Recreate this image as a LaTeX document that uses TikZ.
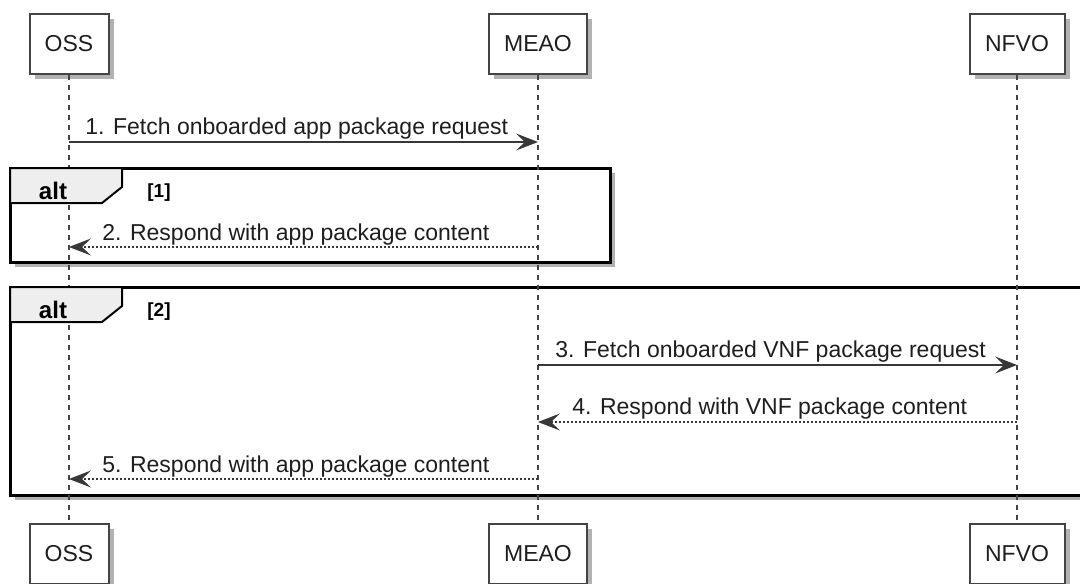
\documentclass[tikz,border=0pt]{standalone}
\usepackage{fontspec}
\setmainfont{Liberation Sans}
\usetikzlibrary{arrows.meta,shadows}
\definecolor{line_gray}{RGB}{56,56,56}
\definecolor{box_gray}{RGB}{68,68,68}
\definecolor{tab_gray}{RGB}{238,238,238}
\definecolor{text_gray}{RGB}{30,30,30}

\begin{document}
\begin{tikzpicture}[x=0.5pt,y=-0.5pt,>={Stealth[length=11pt,width=8.5pt,inset=4.5pt]}]
    \tikzstyle{actor}=[draw=box_gray, line width=1pt, fill=white, minimum height=30pt, inner sep=0pt, text=text_gray, font=\fontsize{11.5}{13}\selectfont, drop shadow={shadow xshift=2.5pt,shadow yshift=-2.5pt,opacity=0.3,fill=black}]
    \tikzstyle{life}=[draw=box_gray, line width=0.6pt, dash pattern=on 2.5pt off 2.5pt]
    \tikzstyle{call}=[->, draw=line_gray, line width=0.65pt]
    \tikzstyle{back}=[style=call, dash pattern=on 1pt off 1pt]
    \tikzstyle{msg}=[anchor=base west, inner sep=0pt, text=text_gray, font=\fontsize{11.5}{13}\selectfont]
    \tikzstyle{frame}=[draw=black, line width=1.5pt, fill=white, drop shadow={shadow xshift=2.5pt,shadow yshift=-2.5pt,opacity=0.3,fill=black}]
    \tikzstyle{tab}=[draw=black, line width=1pt, fill=tab_gray]
    \tikzstyle{kind}=[anchor=base, inner sep=0pt, font=\bfseries\fontsize{12}{14}\selectfont]
    \tikzstyle{guard}=[anchor=base west, inner sep=0pt, font=\bfseries\fontsize{9.5}{11}\selectfont]

    \useasboundingbox (0,0) rectangle (1080,583);
    \clip (0,0) rectangle (1080,583);
    \fill[white] (0,0) rectangle (1080,583);

    % alt frames
    \draw[frame] (10,168) rectangle (610,262);
    \draw[frame] (10,287) rectangle (1100,495);

    % participants
    \node[actor, minimum width=39.5pt] (ossTop)  at (69,44)   {OSS};
    \node[actor, minimum width=49pt]   (meaoTop) at (538,44)  {MEAO};
    \node[actor, minimum width=47.5pt] (nfvoTop) at (1017,44) {NFVO};
    \node[actor, minimum width=39.5pt] (ossBot)  at (69,554)  {OSS};
    \node[actor, minimum width=49pt]   (meaoBot) at (538,554) {MEAO};
    \node[actor, minimum width=47.5pt] (nfvoBot) at (1017,554) {NFVO};

    \path[life]
     (ossTop) edge (ossBot)
     (meaoTop) edge (meaoBot)
     (nfvoTop) edge (nfvoBot)
     ;

    % alt tabs
    \filldraw[tab] (10,168) -- (122,168) -- (122,187) -- (102,203) -- (10,203) -- cycle;
    \node[kind]  (alt1) at (53,199)  {alt};
    \node[guard] (g1)   at (147,197) {[1]};
    \filldraw[tab] (10,287) -- (122,287) -- (122,306) -- (102,322) -- (10,322) -- cycle;
    \node[kind]  (alt2) at (53,318)  {alt};
    \node[guard] (g2)   at (147,316) {[2]};

    % messages
    \coordinate (m1) at (0,142);
    \coordinate (m2) at (0,247);
    \coordinate (m3) at (0,365);
    \coordinate (m4) at (0,422);
    \coordinate (m5) at (0,479);
    \path
     (ossTop |- m1) edge[call] (meaoTop |- m1)
     (meaoTop |- m2) edge[back] (ossTop |- m2)
     (meaoTop |- m3) edge[call] (nfvoTop |- m3)
     (nfvoTop |- m4) edge[back] (meaoTop |- m4)
     (meaoTop |- m5) edge[back] (ossTop |- m5)
     ;
    \node[msg] (l1) at (85,134)  {1. Fetch onboarded app package request};
    \node[msg] (l2) at (102,240) {2. Respond with app package content};
    \node[msg] (l3) at (555,357) {3. Fetch onboarded VNF package request};
    \node[msg] (l4) at (572,414) {4. Respond with VNF package content};
    \node[msg] (l5) at (102,472) {5. Respond with app package content};
\end{tikzpicture}
\end{document}
